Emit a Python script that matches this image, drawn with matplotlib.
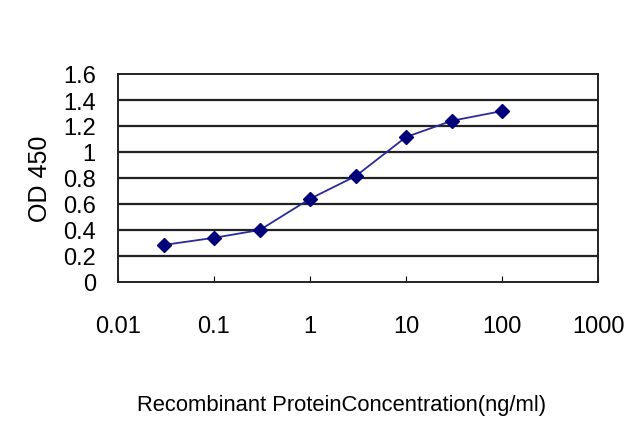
import matplotlib.pyplot as plt
import matplotlib.ticker as mticker

conc = [0.03, 0.1, 0.3, 1, 3, 10, 30, 100]
od = [0.285, 0.34, 0.40, 0.64, 0.815, 1.115, 1.24, 1.315]
xticks = [0.01, 0.1, 1, 10, 100, 1000]
xtick_labels = ['0.01', '0.1', '1', '10', '100', '1000']
yticks = [0, 0.2, 0.4, 0.6, 0.8, 1, 1.2, 1.4, 1.6]
ytick_labels = ['0', '0.2', '0.4', '0.6', '0.8', '1', '1.2', '1.4', '1.6']

plt.rcParams['font.family'] = ['Liberation Sans', 'DejaVu Sans']

fig = plt.figure(figsize=(6.4, 4.27), dpi=100)
ax = fig.add_axes([118/640, 1-283/427, 480/640, 208/427])

for y in yticks[1:-1]:
    ax.axhline(y, color='#222222', lw=1.6, zorder=1)

ax.plot(conc, od, color='#2a2a9a', lw=1.3, marker='D', markersize=7,
        markerfacecolor='#00007a', markeredgecolor='#00007a', zorder=3)

ax.set_xscale('log')
ax.set_xlim(0.01, 1000)
ax.set_ylim(0, 1.6)
ax.set_xticks(xticks)
ax.set_xticklabels(xtick_labels)
ax.xaxis.set_minor_locator(mticker.NullLocator())
ax.set_yticks(yticks)
ax.set_yticklabels(ytick_labels)
ax.tick_params(axis='x', direction='in', length=4, pad=24, labelsize=17)
ax.tick_params(axis='y', length=0, pad=16, labelsize=17)
for s in ax.spines.values():
    s.set_color('#222222')
    s.set_linewidth(1.4)

ax.set_ylabel('OD 450', fontsize=18, labelpad=8)
ax.set_xlabel('Recombinant ProteinConcentration(ng/ml)', fontsize=15.8, va='center')
ax.xaxis.set_label_coords(0.465, -0.59)

fig.savefig('out.png', dpi=100)
